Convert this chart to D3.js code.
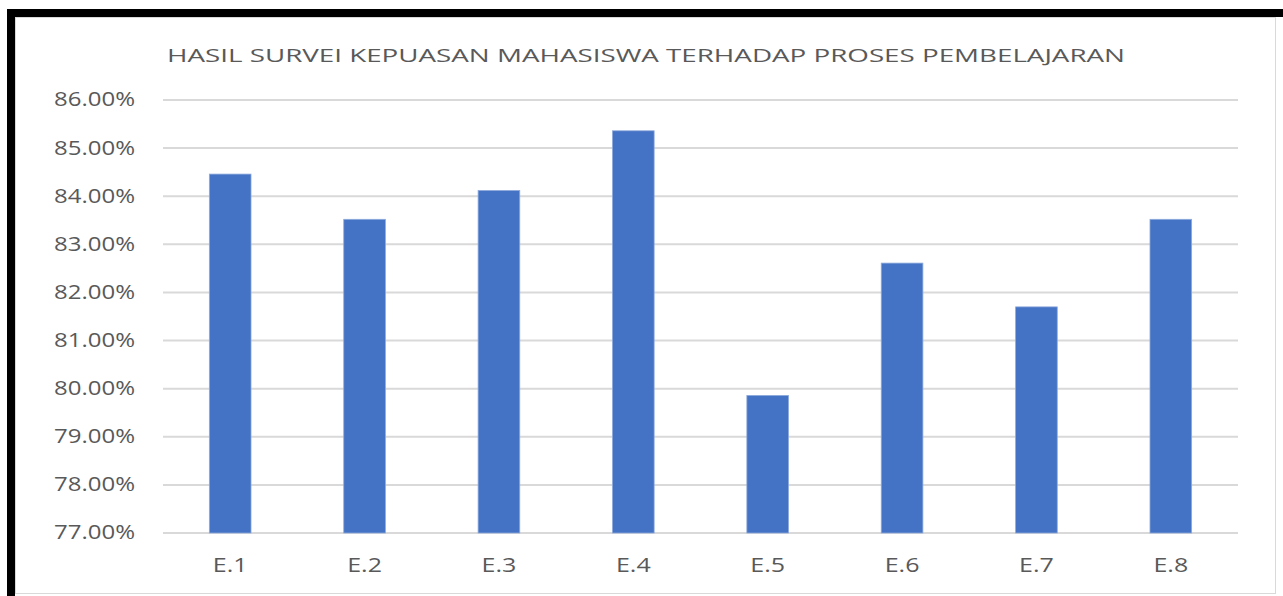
<!DOCTYPE html>
<html>
<head>
<meta charset="utf-8">
<script src="https://cdn.jsdelivr.net/npm/d3@7"></script>
<style>
  body { margin: 0; background: #fff; }
  svg { display: block; }
  text { font-family: "Open Sans", sans-serif; fill: #595959; }
</style>
</head>
<body>
<svg width="1283" height="596"></svg>
<script>
var categories = ['E.1', 'E.2', 'E.3', 'E.4', 'E.5', 'E.6', 'E.7', 'E.8'];
var values = [84.46, 83.52, 84.12, 85.36, 79.86, 82.61, 81.70, 83.52];
var yTicks = [77, 78, 79, 80, 81, 82, 83, 84, 85, 86];
var title = 'HASIL SURVEI KEPUASAN MAHASISWA TERHADAP PROSES PEMBELAJARAN';

var svg = d3.select('svg');

// frame
svg.append('rect').attr('x', 11).attr('y', 13).attr('width', 1276).attr('height', 600)
  .attr('fill', '#fff').attr('stroke', '#000').attr('stroke-width', 8);
svg.append('rect').attr('x', 15.5).attr('y', 17.5).attr('width', 1260).attr('height', 576)
  .attr('fill', 'none').attr('stroke', '#d9d9d9').attr('stroke-width', 1);

var plotLeft = 163, plotRight = 1238, plotTop = 100, plotBottom = 533;

var x = d3.scaleBand().domain(categories).range([plotLeft, plotRight]).paddingInner(0.69).paddingOuter(0.345);
var y = d3.scaleLinear().domain([77, 86]).range([plotBottom, plotTop]);

// gridlines
svg.append('g').selectAll('line').data(yTicks).join('line')
  .attr('x1', plotLeft).attr('x2', plotRight)
  .attr('y1', d => y(d)).attr('y2', d => y(d))
  .attr('stroke', '#d9d9d9').attr('stroke-width', 2);

// y labels (scaled wider like the source screenshot)
var yAxis = svg.append('g')
  .call(d3.axisLeft(y).tickValues(yTicks).tickSize(0).tickPadding(0).tickFormat(d => d.toFixed(2) + '%'));
yAxis.select('.domain').remove();
yAxis.selectAll('.tick').attr('transform', d => 'translate(135,' + y(d) + ') scale(1.2,1)');
yAxis.selectAll('text').style('font-size', '20px').attr('fill', '#595959');

// bars
svg.append('g').selectAll('rect').data(values).join('rect')
  .attr('x', (d, i) => x(categories[i]))
  .attr('width', x.bandwidth())
  .attr('y', d => y(d))
  .attr('height', d => y(77) - y(d))
  .attr('fill', '#4472c4')
  .attr('stroke', '#8eaadb').attr('stroke-width', 0.8);

// x labels
var xAxis = svg.append('g')
  .call(d3.axisBottom(x).tickSize(0).tickPadding(0));
xAxis.select('.domain').remove();
xAxis.selectAll('.tick').attr('transform', d => 'translate(' + (x(d) + x.bandwidth() / 2) + ',' + (plotBottom + 25) + ') scale(1.25,1)');
xAxis.selectAll('text').style('font-size', '20px').attr('fill', '#595959');

// title
svg.append('text').attr('x', 646).attr('y', 62).attr('text-anchor', 'middle')
  .style('font-size', '19px').attr('textLength', 958).attr('lengthAdjust', 'spacingAndGlyphs')
  .text(title);
</script>
</body>
</html>
